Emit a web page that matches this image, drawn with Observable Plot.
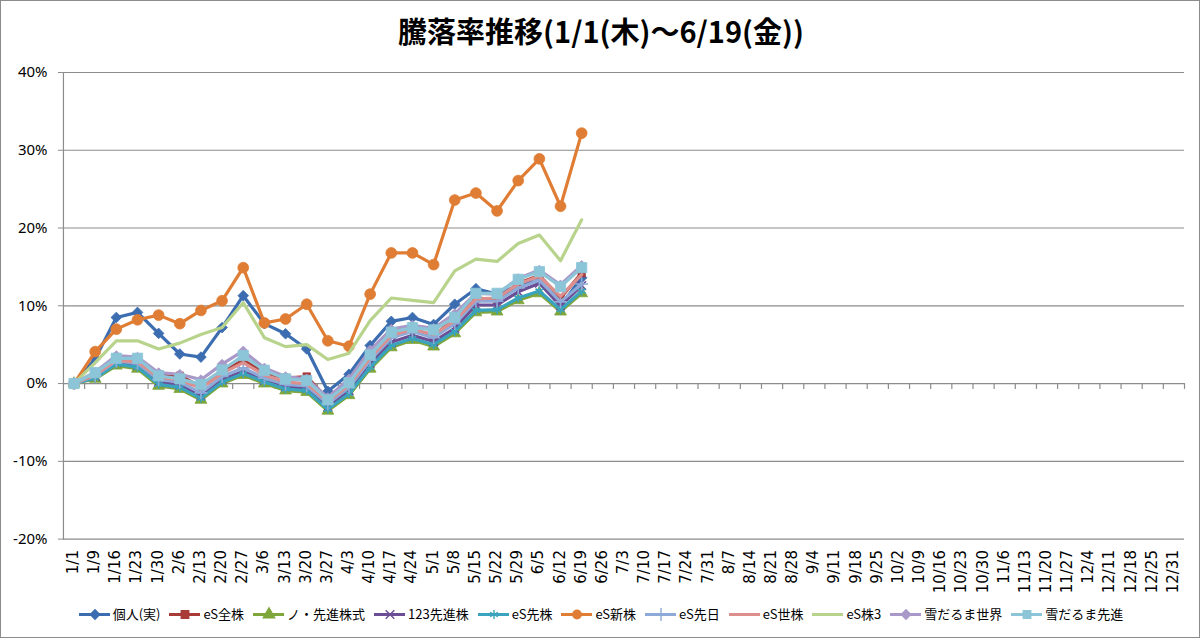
<!DOCTYPE html>
<html><head><meta charset="utf-8">
<script src="https://cdn.jsdelivr.net/npm/d3@7"></script>
<script src="https://cdn.jsdelivr.net/npm/@observablehq/plot@0.6"></script>
<style>
html,body{margin:0;padding:0;background:#fff;}
#wrap{position:relative;width:1200px;height:638px;box-sizing:border-box;border:1px solid #8c8c8c;overflow:hidden;}
#title{position:absolute;left:0;top:13px;width:1200px;text-align:center;font-family:"Noto Sans CJK JP";font-weight:bold;font-size:29px;line-height:32px;color:#000;}
#chart{position:absolute;left:-1px;top:55px;}
#legend{position:absolute;left:0;top:603px;width:1200px;display:flex;justify-content:center;gap:9px;font-family:"Noto Sans CJK JP";font-size:13px;line-height:20px;color:#000;}
.item{display:flex;align-items:center;gap:3px;}
</style></head>
<body><div id="wrap"><div id="title">騰落率推移(1/1(木)～6/19(金))</div><div id="chart"></div><div id="legend"></div></div>
<script>
const categories = ["1/1","1/9","1/16","1/23","1/30","2/6","2/13","2/20","2/27","3/6","3/13","3/20","3/27","4/3","4/10","4/17","4/24","5/1","5/8","5/15","5/22","5/29","6/5","6/12","6/19","6/26","7/3","7/10","7/17","7/24","7/31","8/7","8/14","8/21","8/28","9/4","9/11","9/18","9/25","10/2","10/9","10/16","10/23","10/30","11/6","11/13","11/20","11/27","12/4","12/11","12/18","12/25","12/31"];
const yTicks = [-0.2,-0.1,0,0.1,0.2,0.3,0.4];
const seriesNames = ["個人(実)","eS全株","ノ・先進株式","123先進株","eS先株","eS新株","eS先日","eS世株","eS株3","雪だるま世界","雪だるま先進"];
// values in percent
const personal   = [0,3.2,8.5,9.15,6.45,3.8,3.4,7.2,11.3,7.7,6.4,4.45,-1.0,1.2,4.9,8.0,8.5,7.6,10.2,12.2,11.5,12.6,13.3,10.0,13.6];
const esAll      = [0,1.2,3.2,2.9,1.2,1.0,-0.4,1.5,3.0,1.4,0.7,0.9,-2.0,0.2,3.6,6.5,7.1,6.0,8.6,11.1,10.6,12.9,13.9,11.0,14.2];
const noAdv      = [0,0.6,2.3,1.9,-0.3,-0.7,-2.1,0,1.1,0,-0.9,-1.1,-3.5,-1.5,1.9,4.65,5.6,4.75,6.45,9.15,9.25,10.7,11.6,9.25,11.6];
const adv123     = [0,0.9,2.7,2.3,0.2,-0.2,-1.6,0.5,1.6,0.4,-0.4,-0.6,-3.0,-0.9,2.6,5.3,6.2,5.4,7.1,10.1,10.1,11.8,12.9,10.0,12.6];
const esAdv      = [0,0.7,2.5,2.1,-0.1,-0.5,-1.9,0.2,1.3,0.2,-0.7,-0.9,-3.3,-1.3,2.1,4.9,5.8,5.0,6.7,9.4,9.5,11.0,11.9,9.5,11.9];
const esNew      = [0,4.1,7.0,8.2,8.8,7.7,9.4,10.65,14.9,7.8,8.3,10.2,5.5,4.8,11.5,16.8,16.8,15.3,23.6,24.5,22.2,26.1,28.9,22.8,32.2];
const esSenjitsu = [0,1.0,2.9,2.6,0.5,0.2,-1.2,0.9,2.0,0.7,-0.1,-0.3,-2.6,-0.5,3.0,5.9,6.7,5.9,7.7,10.6,10.6,12.3,13.3,10.5,12.8];
const esWorld    = [0,1.1,3.0,2.8,0.8,0.5,-0.6,1.3,2.7,1.1,0.2,0.0,-2.3,-0.2,3.3,6.2,7.0,6.3,8.1,10.9,11.0,12.8,13.8,11.2,14.0];
const es3        = [0,2.7,5.5,5.5,4.45,5.2,6.3,7.2,10.4,5.9,4.75,5.0,3.1,3.9,8.1,11.0,10.7,10.4,14.5,16.0,15.7,18.0,19.1,15.8,21.05];
const snowWorld  = [0,1.5,3.6,3.4,1.4,1.2,0.5,2.5,4.2,2.0,0.9,0.6,-1.8,0.6,4.3,7.0,7.5,7.1,9.0,11.6,11.5,13.5,14.6,12.7,15.2];
const snowAdv    = [0,1.4,3.25,3.25,1.0,0.6,-0.1,1.75,3.6,1.7,0.6,0.4,-2.1,0.1,3.7,6.6,7.2,6.9,8.5,11.6,11.6,13.4,14.4,12.45,14.9];

const seriesValues = [personal,esAll,noAdv,adv123,esAdv,esNew,esSenjitsu,esWorld,es3,snowWorld,snowAdv];
const colors = ["#3c6db0","#a83a37","#7fa63a","#6b4e96","#3aa3bd","#e07d35","#8eaad8","#dc8f8d","#b8d48c","#a999c9","#8cc5d8"];
const symbols = ["diamond2","square","triangle","times","asterisk","circle","plus",null,null,"diamond2","square"];
const radii = [4.8,4.2,4.4,4,4.2,5.4,4.2,0,0,4.4,5.8];

const W = 1200, H = 540, mL = 63, mR = 15, mT = 16, mB = 57;
const step = (W - mL - mR) / categories.length;

const marks = [
  Plot.ruleY(yTicks, {stroke:"#8c8c8c", strokeWidth:1.2}),
  Plot.frame({anchor:"left", stroke:"#8c8c8c", strokeWidth:1.2}),
  Plot.axisY({ticks: yTicks, tickFormat: d => `${Math.round(d*100)}%`, label: null, tickSize:5, tickPadding:11, stroke:"#8c8c8c", fill:"#000", fontSize:15, fontFamily:"Noto Sans"}),
  Plot.ruleX(categories, {x: d => d, dx: step/2, y1: 0, y2: -0.0075, stroke:"#8c8c8c", strokeWidth:1.2}),
  Plot.text(categories, {x: d => d, frameAnchor:"bottom", dx: 4, dy: 11, rotate:-90, textAnchor:"end", text: d => d, fontSize:15, fontFamily:"DejaVu Sans", fill:"#000"})
];
seriesNames.forEach((name, k) => {
  const rows = seriesValues[k].map((v, i) => ({date: categories[i], value: v / 100}));
  marks.push(Plot.line(rows, {x:"date", y:"value", stroke: colors[k], strokeWidth:3.2, curve:"linear"}));
  if (symbols[k]) {
    const stroky = ["times","asterisk","plus"].includes(symbols[k]);
    marks.push(Plot.dot(rows, {x:"date", y:"value", symbol: symbols[k], r: radii[k],
      fill: stroky ? "none" : colors[k], stroke: colors[k], strokeWidth: stroky ? 1.6 : 0.8}));
  }
});

const chart = Plot.plot({
  width: W, height: H, marginLeft: mL, marginRight: mR, marginTop: mT, marginBottom: mB,
  x: {type:"point", domain: categories, padding: 0.5, round: false, axis: null},
  y: {domain: [-0.2, 0.4], axis: null},
  style: {background:"transparent", overflow:"visible"},
  marks
});
document.getElementById("chart").appendChild(chart);

// legend
const legend = document.getElementById("legend");
seriesNames.forEach((name, k) => {
  const item = document.createElement("div");
  item.className = "item";
  const sw = Plot.plot({
    width: 31, height: 14, margin: 0,
    x: {domain:[0,1], axis:null}, y:{domain:[0,1], axis:null},
    marks: [
      Plot.ruleY([0.5], {stroke: colors[k], strokeWidth:3}),
      symbols[k] ? Plot.dot([0.5], {x: d => d, y: d => d, symbol: symbols[k], r: Math.min(radii[k], 4.2),
        fill: ["times","asterisk","plus"].includes(symbols[k]) ? "none" : colors[k], stroke: colors[k], strokeWidth:1.4}) : null
    ],
    style:{background:"transparent", overflow:"visible"}
  });
  item.appendChild(sw);
  const t = document.createElement("span");
  t.textContent = name;
  item.appendChild(t);
  legend.appendChild(item);
});
</script></body></html>
